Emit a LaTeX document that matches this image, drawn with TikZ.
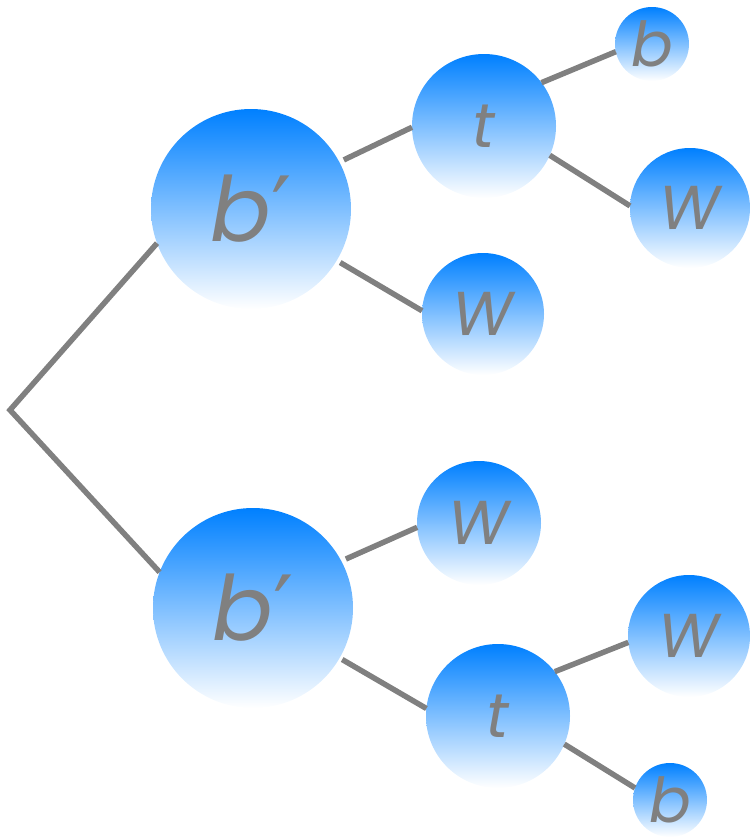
\documentclass[tikz,border=0pt]{standalone}
\usepackage{fontspec}
\setmainfont{Poppins}
\newfontfamily\primefont{DejaVu Sans}
\definecolor{ballblue}{RGB}{0,128,255}
\definecolor{linegray}{RGB}{128,128,128}
\tikzset{
  ball/.style={circle, inner sep=0pt, outer sep=0pt, minimum size=#1,
    top color=ballblue, bottom color=white, text=linegray,
    font=\itshape\fontsize{62}{62}\selectfont},
  bigball/.style={ball=#1, font=\itshape\fontsize{90}{90}\selectfont},
  link/.style={draw=linegray, line width=5.5pt},
}
\begin{document}
\begin{tikzpicture}[x=1pt,y=-1pt]
\useasboundingbox (0,0) rectangle (751,838);
% decay chain nodes
\node[bigball=200pt] (bp1) at (251,209) {b{\primefont\upshape ′}};
\node[bigball=200pt] (bp2) at (253,608) {b{\primefont\upshape ′}};
\node[ball=144pt] (t1) at (484,126) {t};
\node[ball=144pt] (t2) at (498,716) {t};
\node[ball=74pt] (b1) at (652,44) {b};
\node[ball=74pt] (b2) at (670,800) {b};
\node[ball=120pt] (w2) at (690,208) {W};
\node[ball=122pt] (w1) at (483,314) {W};
\node[ball=124pt] (w3) at (479,523) {W};
\node[ball=122pt] (w4) at (689,636) {W};
\coordinate (root) at (10,410);
% connectors
\draw[link] (bp1.200) -- (root) -- (bp2.159);
\draw[link, shorten <=5pt] (bp1.28) -- (t1.181);
\draw[link, shorten <=4pt] (bp1.-31) -- (w1.177);
\draw[link] (t1.37) -- (b1.192);
\draw[link] (t1.-24) -- (w2.178);
\draw[link, shorten <=5pt] (bp2.28) -- (w3.184);
\draw[link, shorten <=3pt] (bp2.-30) -- (t2.174);
\draw[link] (t2.38) -- (w4.186);
\draw[link] (t2.-23) -- (b2.161);
\end{tikzpicture}
\end{document}
